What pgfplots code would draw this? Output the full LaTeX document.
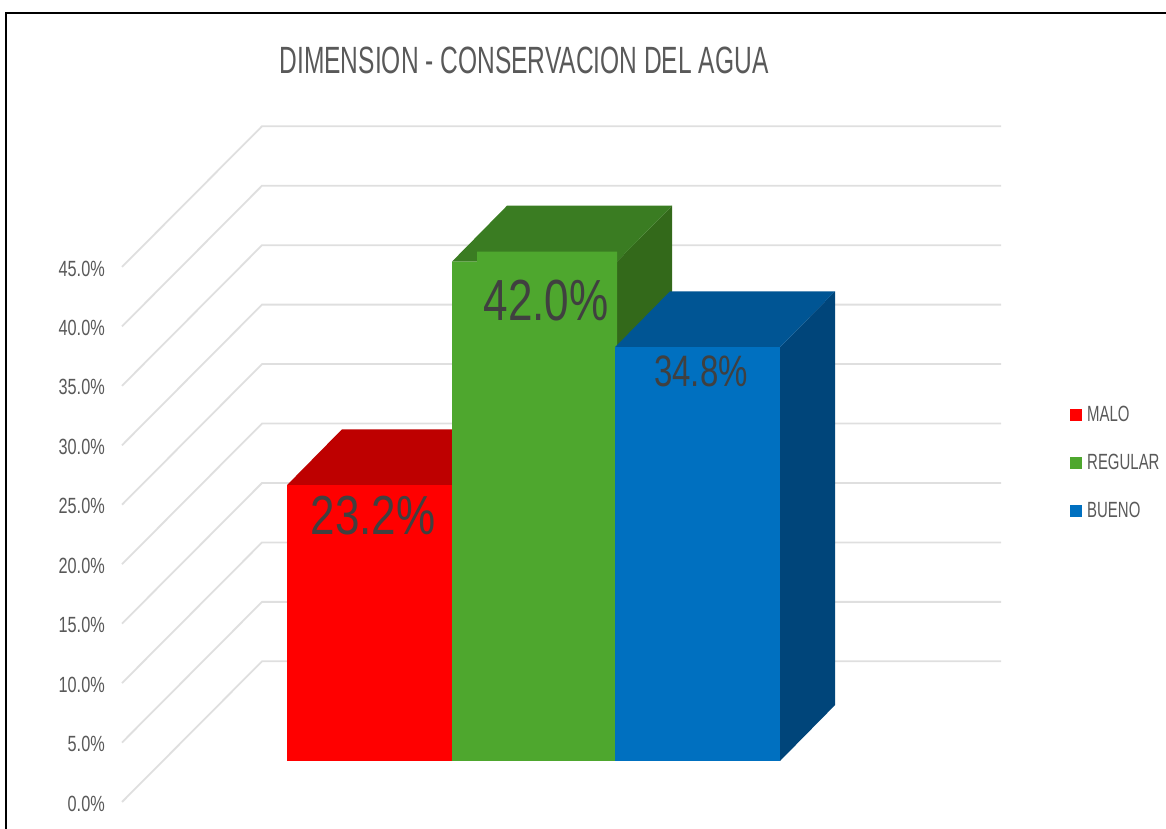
\documentclass[border=0pt]{standalone}
\usepackage{pgfplots}
\pgfplotsset{compat=1.18}
\usepackage{fontspec}
\setmainfont{Liberation Sans}
\definecolor{txt}{HTML}{595959}
\definecolor{lab}{HTML}{404040}
\definecolor{gridc}{HTML}{DFDFDF}
\definecolor{rf}{HTML}{FF0000}\definecolor{rt}{HTML}{BE0000}\definecolor{rs}{HTML}{A80000}
\definecolor{gf}{HTML}{4EA72E}\definecolor{gt}{HTML}{3A7C22}\definecolor{gs}{HTML}{33691A}
\definecolor{bf}{HTML}{0070C0}\definecolor{bt}{HTML}{005594}\definecolor{bs}{HTML}{00457A}
\newcommand\nt[3]{\scalebox{#1}[1]{\fontsize{#2}{#2}\selectfont #3}}
% polygon: columns x (px), v (percent), d (0 = front, 1 = back)
\newcommand\poly[2]{\addplot[fill=#1,draw=none,forget plot] table[row sep=\\,
  x expr=\thisrow{x}+\thisrow{d}*55, y expr=\thisrow{v}+3.448+\thisrow{d}*4.7]
  {x v d\\ #2};}
\begin{document}
\begin{tikzpicture}
\begin{axis}[
  width=1166pt,height=829pt,scale only axis,
  xmin=0,xmax=1166,ymin=-2.271,ymax=67.45,
  axis line style={draw=none},tick style={draw=none},
  xtick=\empty,ytick={0,5,...,45},
  /pgf/number format/assume math mode=true,
  yticklabel={\nt{0.74}{22}{\textcolor{txt}{\pgfmathprintnumber[fixed,fixed zerofill,precision=1]{\tick}\%}}},
  yticklabel style={anchor=east,inner sep=0pt,xshift=105pt,yshift=-1.5pt},
  legend style={draw=none,fill=none,at={(axis cs:1070,33.3)},anchor=north west,
    row sep=31pt,inner sep=0pt,nodes={inner sep=0pt,anchor=west}},
  legend cell align=left,
]
\addplot[black,line width=1.8pt,forget plot] coordinates {(6,-2.271)(6,66.36)(1166,66.36)};
\pgfplotsinvokeforeach{0,5,...,45}{
  \addplot[gridc,line width=1.8pt,forget plot] table[row sep=\\,y expr=\thisrow{d}+#1]
    {x d\\ 122 0\\ 262 11.83\\ 1001 11.83\\};
}
% MALO
\poly{rt}{287 23.2 0\\ 452 23.2 0\\ 452 23.2 1\\ 287 23.2 1\\}
\poly{rf}{287 0 0\\ 452 0 0\\ 452 23.2 0\\ 287 23.2 0\\}
% REGULAR
\poly{gs}{617 0 0\\ 617 0 1\\ 617 42 1\\ 617 42 0\\}
\poly{gt}{452 42 0\\ 617 42 0\\ 617 42 1\\ 452 42 1\\}
\poly{gf}{452 0 0\\ 617 0 0\\ 617 42.84 0\\ 477 42.84 0\\ 477 42 0\\ 452 42 0\\}
% BUENO
\poly{bs}{780 0 0\\ 780 0 1\\ 780 34.8 1\\ 780 34.8 0\\}
\poly{bt}{615 34.8 0\\ 780 34.8 0\\ 780 34.8 1\\ 615 34.8 1\\}
\poly{bf}{615 0 0\\ 780 0 0\\ 780 34.8 0\\ 615 34.8 0\\}
\addlegendimage{only marks,mark=square*,mark size=5.5pt,rf,mark options={draw=none}}
\addlegendentry{\hspace{6pt}\nt{0.68}{22}{\textcolor{txt}{MALO}}}
\addlegendimage{only marks,mark=square*,mark size=5.5pt,gf,mark options={draw=none}}
\addlegendentry{\hspace{6pt}\nt{0.68}{22}{\textcolor{txt}{REGULAR}}}
\addlegendimage{only marks,mark=square*,mark size=5.5pt,bf,mark options={draw=none}}
\addlegendentry{\hspace{6pt}\nt{0.68}{22}{\textcolor{txt}{BUENO}}}
\node[anchor=center,inner sep=0pt] at (axis cs:524,62.35) {\nt{0.646}{38}{\textcolor{txt}{DIMENSION - CONSERVACION DEL AGUA}}};
\node[anchor=center,inner sep=0pt] at (axis cs:373,24.1) {\nt{0.8}{55}{\textcolor{lab}{23.2\%}}};
\node[anchor=center,inner sep=0pt] at (axis cs:546,42.15) {\nt{0.76}{58}{\textcolor{lab}{42.0\%}}};
\node[anchor=center,inner sep=0pt] at (axis cs:701,36.2) {\nt{0.75}{44}{\textcolor{lab}{34.8\%}}};
\end{axis}
\end{tikzpicture}
\end{document}
